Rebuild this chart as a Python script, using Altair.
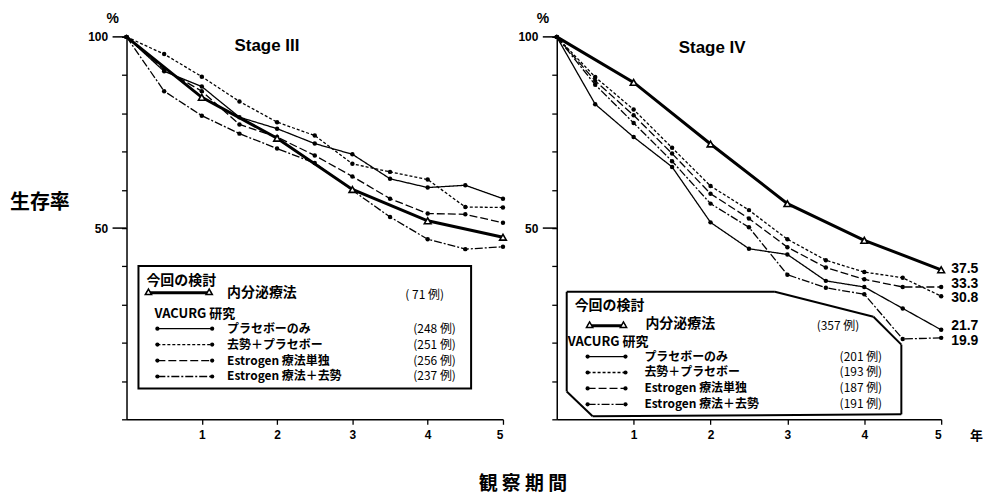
import altair as alt
import pandas as pd

# ---------------- data ----------------
YEARS = [0, 0.5, 1, 1.5, 2, 2.5, 3, 3.5, 4, 4.5, 5]
TRI_YEARS = [0, 1, 2, 3, 4, 5]

SERIES = ["プラセボーのみ", "去勢＋プラセボー", "Estrogen 療法単独", "Estrogen 療法＋去勢"]

# Stage III
S3_PLACEBO = [100, 91.0, 87.0, 79.0, 76.0, 72.1, 69.3, 62.9, 60.6, 61.2, 57.7]
S3_ORCH_PLACEBO = [100, 95.5, 89.6, 83.1, 77.7, 74.2, 66.8, 64.7, 62.7, 55.5, 55.4]
S3_ESTROGEN = [100, 91.5, 85.8, 77.1, 73.8, 69.0, 63.5, 57.7, 53.8, 53.6, 51.4]
S3_ESTROGEN_ORCH = [100, 85.8, 79.4, 74.7, 70.8, 67.0, 59.9, 52.9, 47.1, 44.5, 45.1]
S3_ENDOCRINE = [100, 84.2, 73.5, 60.1, 51.9, 47.6]
S3_COUNTS = ["(248 例)", "(251 例)", "(256 例)", "(237 例)"]
S3_ENDO_COUNT = "( 71 例)"

# Stage IV
S4_PLACEBO = [100, 82.4, 73.8, 66.0, 51.5, 44.6, 43.1, 36.2, 34.6, 29.0, 23.4]
S4_ORCH_PLACEBO = [100, 89.5, 81.0, 71.0, 61.0, 54.7, 47.1, 41.6, 38.5, 37.0, 32.2]
S4_ESTROGEN = [100, 88.5, 79.5, 69.5, 59.0, 52.5, 45.0, 39.7, 36.6, 34.6, 34.6]
S4_ESTROGEN_ORCH = [100, 87.5, 77.5, 67.5, 56.4, 50.2, 37.8, 34.4, 32.7, 21.0, 21.3]
S4_ENDOCRINE = [100, 88.1, 72.0, 56.4, 46.8, 39.1]
S4_COUNTS = ["(201 例)", "(193 例)", "(187 例)", "(191 例)"]
S4_ENDO_COUNT = "(357 例)"
S4_END_LABELS = ["37.5", "33.3", "30.8", "21.7", "19.9"]
# vertical spot (in % units) where each end label sits
S4_END_LABEL_AT = [39.3, 35.4, 31.7, 24.5, 20.6]

X_TICKS = [1, 2, 3, 4, 5]
Y_TICKS = list(range(0, 101, 10))
Y_MAJOR = [50, 100]

# ---------------- styling ----------------
JP = "Noto Sans CJK JP"
LAT = "Liberation Sans"
DASHES = [[1, 0], [3, 2], [8, 3], [8, 2, 2, 2]]
W_LEFT, W_RIGHT, H = 378, 386, 384

ONE = pd.DataFrame({"a": [0]})


def xenc():
    return alt.X("t:Q", scale=alt.Scale(domain=[0, 5], nice=False),
                 axis=alt.Axis(values=X_TICKS, title=None, grid=False, tickSize=5,
                               labelPadding=5, format="d", labelFontSize=12,
                               labelFont=LAT, labelFontWeight="bold"))


def yenc():
    return alt.Y("v:Q", scale=alt.Scale(domain=[0, 100], nice=False),
                 axis=alt.Axis(values=Y_TICKS, title=None, grid=False, tickSize=5,
                               labelPadding=14, labelFontSize=12, labelFont=LAT,
                               labelFontWeight="bold",
                               labelExpr="datum.value == 100 || datum.value == 50 ? datum.label : ''"))


def txt(text, px, py, size=13, weight="bold", font=JP, align="left", baseline="middle"):
    return alt.Chart(ONE).mark_text(text=text, fontSize=size, fontWeight=weight, font=font,
                                    align=align, baseline=baseline, color="black").encode(
        x=alt.value(px), y=alt.value(py))


def seg(x1, y1, x2, y2, width=1.3, dash=None):
    kw = dict(color="black", strokeWidth=width)
    if dash is not None:
        kw["strokeDash"] = dash
    return alt.Chart(ONE).mark_rule(**kw).encode(
        x=alt.value(x1), y=alt.value(y1), x2=alt.value(x2), y2=alt.value(y2))


def dot(px, py):
    return alt.Chart(ONE).mark_circle(color="black", size=18, opacity=1).encode(
        x=alt.value(px), y=alt.value(py))


def tri(px, py):
    return alt.Chart(ONE).mark_point(shape="triangle-up", filled=True, fill="white",
                                     stroke="black", strokeWidth=1.5, size=40,
                                     opacity=1).encode(x=alt.value(px), y=alt.value(py))


def panel(vac, endo, title, title_pos, width, legend):
    rows = []
    for name, vals in zip(SERIES, vac):
        for t, v in zip(YEARS, vals):
            rows.append({"t": t, "v": v, "series": name})
    vdf = pd.DataFrame(rows)
    edf = pd.DataFrame({"t": TRI_YEARS, "v": endo})

    layers = []
    layers.append(alt.Chart(vdf).mark_line(color="black", strokeWidth=1.3).encode(
        x=xenc(), y=yenc(),
        strokeDash=alt.StrokeDash("series:N", scale=alt.Scale(domain=SERIES, range=DASHES),
                                  legend=None),
        detail="series:N"))
    layers.append(alt.Chart(vdf).mark_circle(color="black", size=20, opacity=1).encode(
        x=xenc(), y=yenc()))
    layers.append(alt.Chart(edf).mark_line(color="black", strokeWidth=3).encode(
        x=xenc(), y=yenc()))
    layers.append(alt.Chart(edf[edf["t"] > 0]).mark_point(
        shape="triangle-up", filled=True, fill="white", stroke="black", strokeWidth=1.6,
        size=45, opacity=1).encode(x=xenc(), y=yenc()))
    # long ticks at 50 and 100
    layers.append(alt.Chart(pd.DataFrame({"v": Y_MAJOR})).mark_rule(
        color="black", strokeWidth=1.5).encode(y=yenc(), x=alt.value(-14), x2=alt.value(0)))

    layers.append(txt("%", -20, -18, size=14, font=LAT))
    layers.append(txt(title, title_pos[0], title_pos[1], size=17, font=LAT, align="center"))
    layers += legend
    return alt.layer(*layers).properties(width=width, height=H)


def legend_items(box_layers, head_xy, endo_line, endo_text_xy, endo_count, endo_count_xy,
                 vac_head_xy, sample_x, sample_ys, text_x, text_ys, count_x, counts):
    out = list(box_layers)
    out.append(txt("今回の検討", head_xy[0], head_xy[1], size=14))
    x1, x2, y = endo_line
    out.append(seg(x1, y, x2, y, width=3))
    out.append(tri(x1 + 2, y - 1))
    out.append(tri(x2 - 2, y - 1))
    out.append(txt("内分泌療法", endo_text_xy[0], endo_text_xy[1], size=14))
    out.append(txt(endo_count, endo_count_xy[0], endo_count_xy[1], size=12, weight="normal"))
    out.append(txt("VACURG 研究", vac_head_xy[0], vac_head_xy[1], size=13))
    for name, dash, sy, ty, c in zip(SERIES, DASHES, sample_ys, text_ys, counts):
        out.append(seg(sample_x[0], sy, sample_x[1], sy, width=1.3, dash=dash))
        out.append(dot(sample_x[0], sy))
        out.append(dot(sample_x[1], sy))
        out.append(txt(name, text_x, ty, size=12))
        out.append(txt(c, count_x, ty, size=12, weight="normal"))
    return out


# ---------- left panel (Stage III) ----------
left_box = [alt.Chart(ONE).mark_rect(fill="white", stroke="black", strokeWidth=2).encode(
    x=alt.value(12), x2=alt.value(346), y=alt.value(230), y2=alt.value(353))]
left_legend = legend_items(
    left_box, (20, 245), (20, 85, 257), (101, 257), S3_ENDO_COUNT, (280, 259),
    (28, 278), (31, 86), [293, 309, 325, 341], 101, [293, 309, 325, 341], 288, S3_COUNTS)
left_extra = [
    txt("生存率", -117, 167, size=20),
    txt("観  察  期  間", 398, 449, size=19, align="center"),
]
left = panel([S3_PLACEBO, S3_ORCH_PLACEBO, S3_ESTROGEN, S3_ESTROGEN_ORCH], S3_ENDOCRINE,
             "Stage III", (141, 9), W_LEFT, left_legend + left_extra)

# ---------- right panel (Stage IV) ----------
poly = [(10, 256), (219, 256), (318, 281), (346, 309), (346, 379), (36, 381), (10, 356)]
right_box = [seg(a[0], a[1], b[0], b[1], width=2)
             for a, b in zip(poly, poly[1:] + poly[:1])]
right_legend = legend_items(
    right_box, (18, 270), (31, 69, 290), (89, 288), S4_ENDO_COUNT, (261, 290),
    (11, 306), (31, 69), [321, 337, 353, 369], 88, [321, 337, 353, 369], 284, S4_COUNTS)

end_df = pd.DataFrame({
    "t": [5] * 5,
    "v": S4_END_LABEL_AT,
    "label": S4_END_LABELS,
})
right_extra = [
    alt.Chart(end_df).mark_text(align="left", baseline="middle", dx=10, fontSize=14,
                                fontWeight="bold", font=LAT, color="black").encode(
        x=xenc(), y=yenc(), text="label:N"),
    txt("年", 415, 401, size=13),
]
right = panel([S4_PLACEBO, S4_ORCH_PLACEBO, S4_ESTROGEN, S4_ESTROGEN_ORCH], S4_ENDOCRINE,
              "Stage IV", (156, 11), W_RIGHT, right_legend + right_extra)

chart = alt.hconcat(left, right, spacing=54, bounds="flush").properties(
    padding={"left": 2, "top": 3, "right": 0, "bottom": 0},
    background="white",
).configure_view(stroke=None).configure_axis(
    domainColor="black", tickColor="black", labelColor="black",
    domainWidth=1.5, tickWidth=1.3, grid=False,
)

chart.save("out.html", embed_options={"renderer": "svg", "actions": False})
